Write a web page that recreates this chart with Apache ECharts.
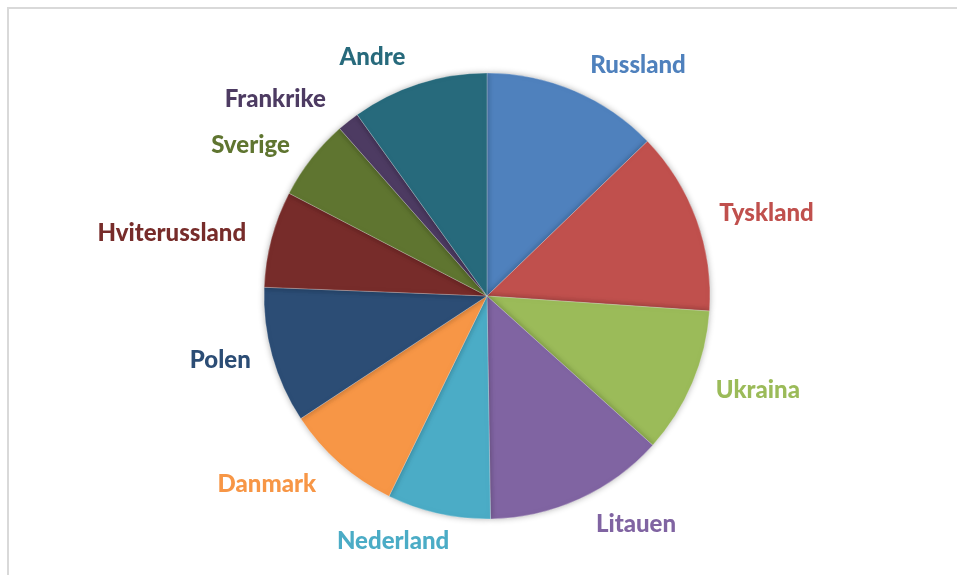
<!DOCTYPE html>
<html>
<head>
<meta charset="utf-8">
<script src="https://cdn.jsdelivr.net/npm/echarts@6/dist/echarts.min.js"></script>
<style>
  html, body { margin: 0; padding: 0; background: #fff; }
  .content-box {
    position: absolute;
    left: 7px;
    top: 7px;
    width: 950px;
    height: 568px;
    border-top: 2px solid #d9d9d9;
    border-left: 2px solid #d9d9d9;
  }
  #chart { width: 100%; height: 100%; }
</style>
</head>
<body>
<div class="content-box"><div id="chart"></div></div>
<script>
// andel per land (lest av figuren, prosent)
const categories = ["Russland", "Tyskland", "Ukraina", "Litauen", "Nederland", "Danmark", "Polen", "Hviterussland", "Sverige", "Frankrike", "Andre"];
const values = [12.8, 13.3, 10.6, 13.1, 7.5, 8.5, 9.9, 7.0, 5.9, 1.6, 9.9];
const colors = ["#4F81BD", "#C0504D", "#9BBB59", "#8064A2", "#4BACC6", "#F79646", "#2C4D75", "#772C2A", "#5F7530", "#4D3B62", "#276A7C"];

// etikettene på sidene sitter nærmere kaken
const sideLength = { Tyskland: 19, Ukraina: 20, Polen: 17, Hviterussland: 21, Sverige: 21 };

const myChart = echarts.init(document.getElementById("chart"));
const option = {
  animation: false,
  series: [
    {
      type: "pie",
      center: [478, 287],
      radius: 223,
      startAngle: 90,
      clockwise: true,
      avoidLabelOverlap: false,
      data: categories.map((name, i) => ({
        name: name,
        value: values[i],
        itemStyle: { color: colors[i] },
        label: { color: colors[i] },
        labelLine: sideLength[name] ? { length: sideLength[name] } : undefined,
      })),
      itemStyle: {
        borderColor: "rgba(255,255,255,0.5)",
        borderWidth: 0.5,
        shadowBlur: 6,
        shadowColor: "rgba(0,0,0,0.3)",
      },
      label: {
        show: true,
        position: "outside",
        formatter: "{b}",
        fontFamily: "Lato",
        fontWeight: 900,
        fontSize: 24,
      },
      labelLine: {
        show: false,
        length: 28,
        length2: 0,
      },
      // Nederland står litt mer midtstilt under kaken
      labelLayout: function (params) {
        if (params.dataIndex === 4) {
          return { dx: 22 };
        }
        return {};
      },
    },
  ],
};
myChart.setOption(option);
</script>
</body>
</html>
